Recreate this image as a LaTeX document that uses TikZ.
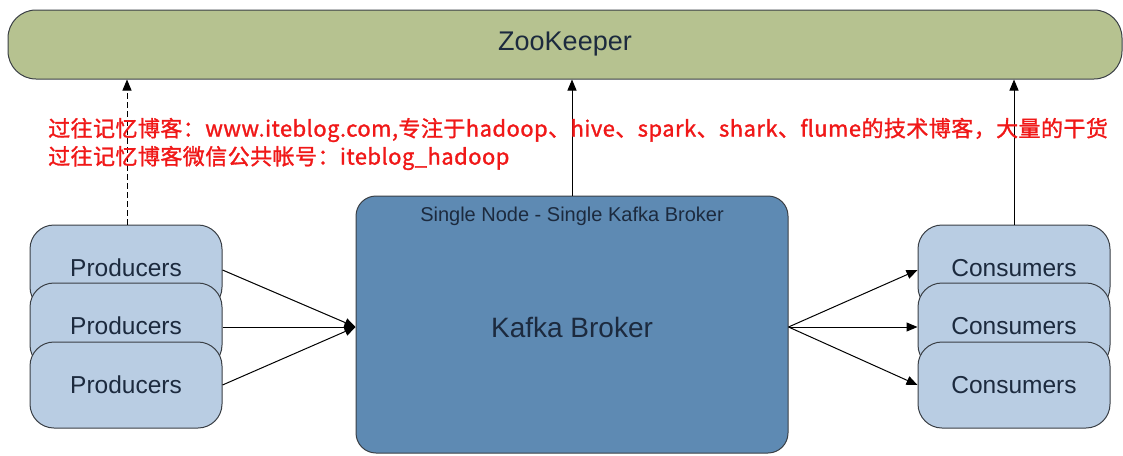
\documentclass[tikz,border=0pt]{standalone}
\usepackage{fontspec}
\setmainfont{Liberation Sans}
\newfontfamily\cjk[FakeBold=1.3,LetterSpace=2]{Noto Sans CJK SC}
\usetikzlibrary{arrows.meta}
\definecolor{zkfill}{HTML}{B6C290}
\definecolor{boxfill}{HTML}{B9CDE3}
\definecolor{brokerfill}{HTML}{5E8AB3}
\definecolor{edgecol}{HTML}{3A3F45}
\definecolor{txtcol}{HTML}{1C2A3E}
\definecolor{notered}{HTML}{F01818}
\tikzset{
  zkbox/.style={draw=edgecol, line width=1pt, fill=zkfill, rounded corners=28pt,
    minimum width=1114pt, minimum height=69pt, inner sep=0pt,
    font=\fontsize{27}{31}\selectfont, text=txtcol},
  clientbox/.style={draw=edgecol, line width=1pt, fill=boxfill, rounded corners=24pt,
    minimum width=192pt, minimum height=86pt, inner sep=0pt,
    font=\fontsize{24.5}{28}\selectfont, text=txtcol},
  brokerbox/.style={draw=edgecol, line width=1pt, fill=brokerfill, rounded corners=20pt,
    minimum width=432pt, minimum height=257pt, inner sep=0pt},
  conn/.style={draw=black, line width=1pt, -{Triangle[length=11pt,width=9pt]}},
  note/.style={text=notered, font=\cjk\fontsize{22}{26}\selectfont, anchor=west, inner sep=0pt}
}
\begin{document}
\begin{tikzpicture}[x=1pt,y=-1pt]
\useasboundingbox (0,0) rectangle (1123,455);
\node[zkbox] (zk) at (565,44.5) {ZooKeeper};

\node[brokerbox] (broker) at (572,324.5) {};
\node[text=txtcol, font=\fontsize{20}{23}\selectfont, inner sep=0pt] (brokertitle) at (572,216) {Single Node - Single Kafka Broker};
\node[text=txtcol, font=\fontsize{28}{32}\selectfont, inner sep=0pt] (brokerlabel) at (572,327) {Kafka Broker};

\node[clientbox] (p1) at (126,268) {Producers};
\node[clientbox] (p2) at (126,326) {Producers};
\node[clientbox] (p3) at (126,385) {Producers};

\node[clientbox] (c1) at (1014,268) {Consumers};
\node[clientbox] (c2) at (1014,326) {Consumers};
\node[clientbox] (c3) at (1014,385) {Consumers};

\coordinate (bin) at (broker.west |- 0,327);
\coordinate (bout) at (broker.east |- 0,327);

\draw[conn] (p1.east |- 0,270) -- (bin);
\draw[conn] (p2.east |- 0,327) -- (bin);
\draw[conn] (p3.east |- 0,385) -- (bin);

\draw[conn] (bout) -- (c1.west |- 0,270);
\draw[conn] (bout) -- (c2.west |- 0,327);
\draw[conn] (bout) -- (c3.west |- 0,385);

\draw[conn, dash pattern=on 6pt off 3pt] (p1.north -| 127,0) -- (zk.south -| 127,0);
\draw[conn] (broker.north) -- (zk.south -| broker.north);
\draw[conn] (c1.north) -- (zk.south -| c1.north);

\node[note] (note1) at (48,130) {过往记忆博客：www.iteblog.com,专注于hadoop、hive、spark、shark、flume的技术博客，大量的干货};
\node[note] (note2) at (48,158) {过往记忆博客微信公共帐号：iteblog\_hadoop};
\end{tikzpicture}
\end{document}
